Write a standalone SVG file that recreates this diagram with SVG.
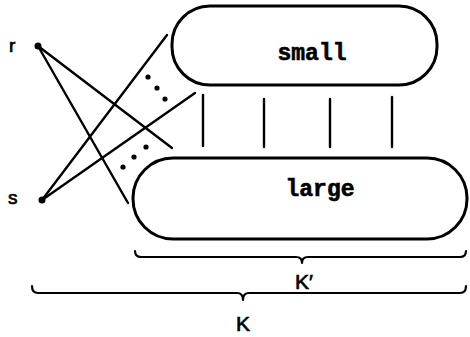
<svg xmlns="http://www.w3.org/2000/svg" width="470" height="337" viewBox="0 0 470 337">
<style>
.ln{stroke:#000;stroke-width:2.4;fill:none;stroke-linecap:round}
.pill{stroke:#000;stroke-width:3;fill:#fff}
.br{stroke:#000;stroke-width:2.2;fill:none;stroke-linejoin:round;stroke-linecap:round}
.mono{font-family:"Liberation Mono",monospace;font-weight:bold;font-size:23px;text-anchor:middle;stroke:#000;stroke-width:0.6}
.lbl{font-family:"Liberation Sans",Arial,sans-serif;font-size:19px;stroke:#000;stroke-width:0.7}
.big{font-family:"Liberation Sans",Arial,sans-serif;font-size:21px;text-anchor:middle;stroke:#000;stroke-width:0.7}
</style>
<rect width="470" height="337" fill="#fff"/>
<g id="connectors">
<line class="ln" x1="38" y1="46" x2="172" y2="148"/>
<line class="ln" x1="38" y1="46" x2="128" y2="203"/>
<line class="ln" x1="42" y1="200" x2="167" y2="35"/>
<line class="ln" x1="42" y1="200" x2="195" y2="93"/>
<line class="ln" x1="203" y1="95" x2="203" y2="146"/>
<line class="ln" x1="264" y1="99" x2="264" y2="147"/>
<line class="ln" x1="330" y1="99" x2="330" y2="147"/>
<line class="ln" x1="392" y1="97" x2="392" y2="147"/>
<g fill="#000">
<circle cx="148" cy="77" r="2.6"/><circle cx="157" cy="88" r="2.6"/><circle cx="165" cy="99" r="2.6"/>
<circle cx="146" cy="147" r="2.6"/><circle cx="134" cy="157" r="2.6"/><circle cx="123" cy="167" r="2.6"/>
</g>
</g>
<g id="r"><circle cx="38" cy="46" r="3.5" fill="#000"/><text class="lbl" x="9" y="52">r</text></g>
<g id="s"><circle cx="42" cy="200" r="3.5" fill="#000"/><text class="lbl" x="8" y="204">s</text></g>
<g id="small"><rect class="pill" x="172" y="6" width="265" height="79" rx="38" ry="38"/><text class="mono" x="312" y="60">small</text></g>
<g id="large"><rect class="pill" x="133" y="158" width="334" height="81" rx="40" ry="40"/><text class="mono" x="320" y="196">large</text></g>
<g id="kprime"><path class="br" d="M135,251 q0,6 6,6 L296,257 q6,0 6,6 q0,-6 6,-6 L460,257 q6,0 6,-6"/><text class="big" x="304" y="289">K′</text></g>
<g id="k"><path class="br" d="M32,286 q0,7 6,7 L237,293 q6,0 6,7 q0,-7 6,-7 L460,293 q6,0 6,-7"/><text class="big" x="243" y="331">K</text></g>
</svg>
